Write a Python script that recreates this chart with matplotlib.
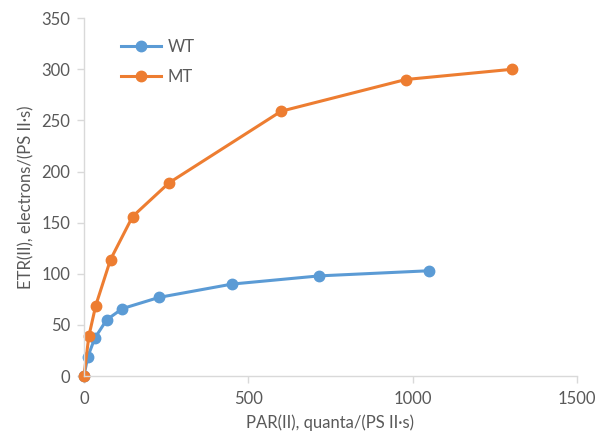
import matplotlib
matplotlib.use("Agg")
import matplotlib.pyplot as plt

# light response curves
wt_par = [0, 12, 33, 69, 117, 229, 451, 716, 1049]
wt_etr = [0, 19, 37, 55, 66, 77, 90, 98, 103]
mt_par = [0, 15, 36, 81, 148, 259, 600, 979, 1302]
mt_etr = [0, 39, 69, 114, 156, 189, 259, 290, 300]

xticks = [0, 500, 1000, 1500]
yticks = [0, 50, 100, 150, 200, 250, 300, 350]

plt.rcParams['font.family'] = ['Lato', 'DejaVu Sans']
gray = '#595959'
axcol = '#d9d9d9'

fig = plt.figure(figsize=(6.08, 4.43), dpi=100)
ax = fig.add_axes([0.138, 0.151, 0.811, 0.808])

ax.plot(wt_par, wt_etr, '-o', color='#5B9BD5', lw=2.2, ms=7.5, label='WT')
ax.plot(mt_par, mt_etr, '-o', color='#ED7D31', lw=2.2, ms=7.5, label='MT')

ax.set_xlim(0, 1500)
ax.set_ylim(0, 350)
ax.set_xticks(xticks)
ax.set_yticks(yticks)
for side in ['top', 'right']:
    ax.spines[side].set_visible(False)
for side in ['left', 'bottom']:
    ax.spines[side].set_color(axcol)
    ax.spines[side].set_linewidth(1.0)
    ax.spines[side].set_clip_on(False)
ax.tick_params(colors=axcol, labelcolor=gray, labelsize=12, length=5, width=1)
ax.tick_params(axis='x', pad=6)
ax.tick_params(axis='y', pad=5)

ax.set_xlabel('PAR(II), quanta/(PS II\u00b7s)', color=gray, fontsize=12, labelpad=5)
ax.set_ylabel('ETR(II), electrons/(PS II\u00b7s)', color=gray, fontsize=12, labelpad=5)

for line in ax.lines:
    line.set_clip_on(False)

leg = ax.legend(loc='upper left', bbox_to_anchor=(0.045, 0.985), frameon=False,
                fontsize=12, handlelength=2.4, labelspacing=0.85, handletextpad=0.4)
for t in leg.get_texts():
    t.set_color(gray)

fig.savefig('out.png', dpi=100)
